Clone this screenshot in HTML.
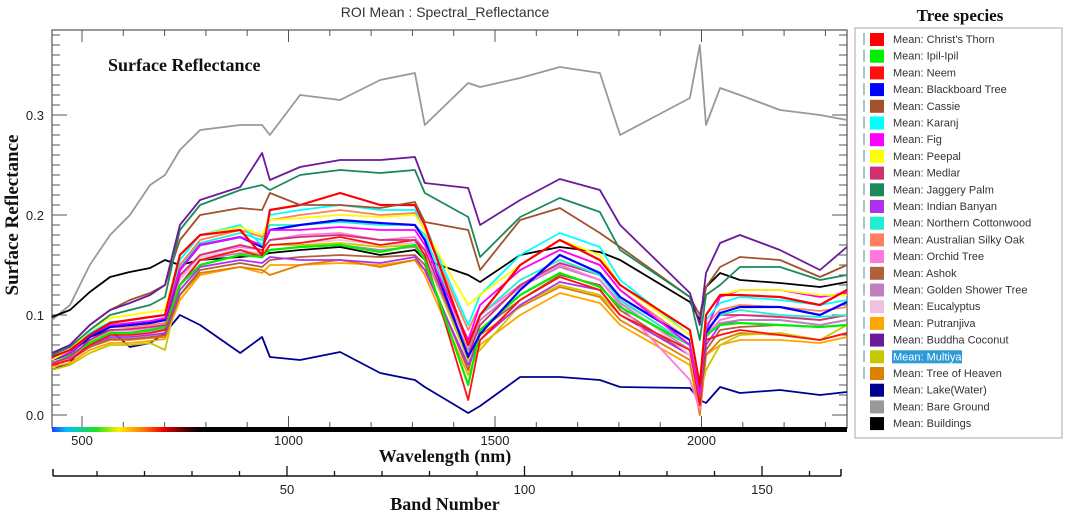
<!DOCTYPE html>
<html><head><meta charset="utf-8">
<style>
body{margin:0;background:#fff;}
svg{display:block;}
.tk{font-family:"Liberation Sans",sans-serif;font-size:13px;fill:#222;}
.sf{font-family:"Liberation Serif",serif;font-weight:bold;fill:#111;}
.lg{font-family:"Liberation Sans",sans-serif;font-size:11px;fill:#333;}
</style></head>
<body>
<svg id="chart" width="1065" height="513" viewBox="0 0 1065 513" xmlns="http://www.w3.org/2000/svg">
<defs>
<linearGradient id="spec" x1="0" x2="1" y1="0" y2="0">
<stop offset="0" stop-color="#2040ff"/><stop offset="0.1" stop-color="#00c0ff"/><stop offset="0.3" stop-color="#20e020"/><stop offset="0.45" stop-color="#ffee00"/><stop offset="0.62" stop-color="#ff7700"/><stop offset="0.75" stop-color="#ee0000"/><stop offset="0.9" stop-color="#500000"/><stop offset="1" stop-color="#000"/>
</linearGradient>
</defs>
<text x="445" y="17" text-anchor="middle" style="font-family:'Liberation Sans',sans-serif;font-size:14px;fill:#333">ROI Mean : Spectral_Reflectance</text>
<rect x="52" y="30" width="795" height="398" fill="#fff" stroke="#555" stroke-width="1.2"/>
<g id="ticks"></g>
<g id="series"></g>
<rect x="52" y="427" width="148" height="5" fill="url(#spec)"/>
<rect x="199" y="427" width="648" height="5" fill="#000"/>
<text class="sf" x="108" y="71" font-size="18">Surface Reflectance</text>
<text class="sf" x="0" y="0" font-size="19" text-anchor="middle" transform="translate(18,215) rotate(-90)">Surface Reflectance</text>
<text class="sf" x="445" y="462" font-size="18" text-anchor="middle">Wavelength (nm)</text>
<text class="sf" x="445" y="510" font-size="18" text-anchor="middle">Band Number</text>
<line x1="53" y1="476" x2="841" y2="476" stroke="#111" stroke-width="1.5"/>
<g id="band"></g>
<text class="sf" x="960" y="21" font-size="17" text-anchor="middle">Tree species</text>
<rect x="855" y="28" width="207" height="410" fill="#fff" stroke="#aaa"/>
<g id="legend"></g>
</svg>
<script>
const wavelengths=[427,471,519,568,616,665,701,737,786,883,936,955,1028,1125,1222,1306,1330,1435,1464,1561,1657,1754,1803,1972,1996,2011,2045,2093,2190,2287,2352];
const yTicks=[0.0,0.1,0.2,0.3];
const yTickLabels=["0.0","0.1","0.2","0.3"];
const xTicks=[500,1000,1500,2000];
const bandTicks=[50,100,150];
const seriesNames=["Christ's Thorn","Ipil-Ipil","Neem","Blackboard Tree","Cassie","Karanj","Fig","Peepal","Medlar","Jaggery Palm","Indian Banyan","Northern Cottonwood","Australian Silky Oak","Orchid Tree","Ashok","Golden Shower Tree","Eucalyptus","Putranjiva","Buddha Coconut","Multiya","Tree of Heaven","Lake(Water)","Bare Ground","Buildings"];
const seriesColors=["#ff0000","#00ee00","#ff1010","#0000ff","#a0522d","#00ffff","#ff00ff","#ffff00","#d03070","#1a8a5a","#b030f0","#20f0d0","#ff8060","#ff77e0","#b0603a","#c080c0","#f0c0e0","#ffa500","#6a1a9a","#c8c800","#e08000","#000090","#999999","#000000"];
const sChristsThorn=[0.058,0.065,0.08,0.092,0.095,0.098,0.1,0.16,0.18,0.185,0.16,0.205,0.21,0.222,0.21,0.21,0.19,0.07,0.1,0.15,0.175,0.155,0.13,0.085,0.03,0.1,0.12,0.12,0.118,0.11,0.125];
const sIpil=[0.055,0.06,0.072,0.082,0.082,0.085,0.088,0.13,0.15,0.16,0.158,0.165,0.168,0.17,0.163,0.17,0.155,0.03,0.085,0.12,0.142,0.128,0.108,0.07,0.02,0.08,0.09,0.092,0.09,0.088,0.09];
const sNeem=[0.05,0.055,0.07,0.08,0.08,0.082,0.085,0.13,0.155,0.165,0.158,0.17,0.172,0.178,0.17,0.175,0.16,0.015,0.075,0.115,0.138,0.125,0.1,0.065,0.01,0.075,0.08,0.085,0.08,0.075,0.082];
const sBlackboard=[0.055,0.062,0.078,0.088,0.09,0.092,0.095,0.145,0.17,0.178,0.168,0.185,0.19,0.195,0.192,0.19,0.175,0.058,0.081,0.125,0.16,0.142,0.118,0.075,0.025,0.082,0.102,0.108,0.108,0.1,0.113];
const sCassie=[0.06,0.07,0.09,0.105,0.115,0.122,0.13,0.175,0.2,0.207,0.205,0.222,0.21,0.21,0.207,0.213,0.193,0.185,0.145,0.195,0.207,0.182,0.168,0.118,0.1,0.128,0.148,0.158,0.155,0.138,0.15];
const sKaranj=[0.058,0.065,0.082,0.093,0.095,0.098,0.1,0.155,0.18,0.19,0.17,0.2,0.205,0.21,0.205,0.205,0.19,0.09,0.12,0.16,0.182,0.168,0.135,0.08,0.03,0.095,0.112,0.118,0.115,0.11,0.115];
const sFig=[0.056,0.062,0.08,0.09,0.092,0.094,0.097,0.145,0.17,0.178,0.17,0.185,0.185,0.188,0.185,0.185,0.17,0.075,0.11,0.145,0.165,0.15,0.125,0.07,0.02,0.085,0.118,0.125,0.125,0.118,0.122];
const sPeepal=[0.055,0.065,0.085,0.097,0.1,0.103,0.105,0.16,0.18,0.188,0.18,0.195,0.197,0.2,0.198,0.2,0.185,0.11,0.12,0.15,0.175,0.16,0.13,0.08,0.03,0.1,0.12,0.125,0.125,0.12,0.12];
const sMedlar=[0.052,0.058,0.075,0.085,0.086,0.088,0.09,0.14,0.16,0.17,0.165,0.175,0.178,0.18,0.175,0.175,0.165,0.06,0.09,0.13,0.152,0.14,0.115,0.07,0.02,0.085,0.1,0.1,0.098,0.095,0.1];
const sJaggery=[0.06,0.068,0.085,0.1,0.105,0.11,0.118,0.185,0.21,0.225,0.23,0.225,0.24,0.245,0.242,0.245,0.222,0.198,0.158,0.198,0.217,0.203,0.165,0.118,0.075,0.12,0.13,0.148,0.148,0.135,0.14];
const sBanyan=[0.05,0.055,0.07,0.078,0.078,0.08,0.082,0.125,0.148,0.155,0.152,0.158,0.155,0.155,0.152,0.158,0.145,0.05,0.075,0.11,0.133,0.125,0.1,0.06,0.015,0.07,0.09,0.095,0.095,0.09,0.095];
const sCottonwood=[0.056,0.063,0.08,0.09,0.09,0.092,0.095,0.148,0.172,0.182,0.175,0.19,0.19,0.193,0.19,0.19,0.18,0.07,0.1,0.135,0.155,0.14,0.115,0.07,0.02,0.085,0.1,0.105,0.1,0.098,0.1];
const sSilkyOak=[0.055,0.062,0.078,0.088,0.088,0.09,0.092,0.15,0.175,0.185,0.178,0.195,0.2,0.205,0.2,0.202,0.185,0.085,0.11,0.145,0.165,0.15,0.125,0.075,0.025,0.09,0.105,0.11,0.108,0.104,0.108];
const sOrchid=[0.052,0.058,0.075,0.085,0.085,0.087,0.09,0.138,0.16,0.168,0.165,0.175,0.18,0.182,0.175,0.178,0.165,0.07,0.1,0.13,0.15,0.135,0.11,0.035,0.005,0.08,0.095,0.1,0.098,0.095,0.1];
const sAshok=[0.05,0.055,0.068,0.076,0.076,0.078,0.08,0.12,0.145,0.152,0.148,0.155,0.158,0.16,0.158,0.16,0.15,0.045,0.085,0.115,0.14,0.13,0.105,0.06,0.01,0.065,0.085,0.088,0.09,0.088,0.09];
const sGoldenShower=[0.05,0.056,0.072,0.082,0.082,0.084,0.086,0.13,0.155,0.162,0.16,0.165,0.168,0.17,0.165,0.168,0.158,0.065,0.095,0.128,0.148,0.135,0.112,0.065,0.015,0.078,0.092,0.095,0.095,0.09,0.095];
const sEucalyptus=[0.052,0.058,0.074,0.084,0.084,0.086,0.088,0.135,0.158,0.165,0.162,0.17,0.172,0.175,0.17,0.172,0.16,0.072,0.1,0.135,0.155,0.14,0.115,0.06,0.01,0.08,0.095,0.1,0.1,0.095,0.1];
const sPutranjiva=[0.048,0.052,0.065,0.072,0.072,0.074,0.076,0.115,0.14,0.148,0.142,0.15,0.15,0.152,0.15,0.155,0.14,0.04,0.07,0.1,0.122,0.112,0.09,0.05,0.0,0.06,0.07,0.075,0.075,0.072,0.078];
const sBuddha=[0.062,0.07,0.09,0.105,0.112,0.12,0.13,0.19,0.215,0.228,0.262,0.235,0.248,0.255,0.255,0.258,0.232,0.227,0.19,0.215,0.236,0.225,0.19,0.122,0.09,0.142,0.172,0.18,0.165,0.145,0.168];
const sMultiya=[0.045,0.05,0.062,0.07,0.07,0.072,0.065,0.13,0.155,0.165,0.16,0.17,0.17,0.172,0.168,0.17,0.16,0.055,0.065,0.11,0.13,0.12,0.1,0.06,0.02,0.045,0.07,0.08,0.082,0.075,0.09];
const sTreeOfHeaven=[0.05,0.055,0.068,0.075,0.075,0.077,0.078,0.12,0.142,0.148,0.145,0.14,0.15,0.155,0.148,0.155,0.145,0.05,0.08,0.108,0.128,0.118,0.095,0.055,0.0,0.06,0.075,0.082,0.08,0.075,0.082];
const sLake=[0.045,0.052,0.078,0.085,0.068,0.072,0.082,0.1,0.09,0.062,0.078,0.058,0.055,0.063,0.042,0.035,0.028,0.002,0.009,0.038,0.038,0.035,0.028,0.027,0.015,0.012,0.028,0.022,0.025,0.02,0.023];
const sBareGround=[0.095,0.11,0.15,0.18,0.2,0.23,0.24,0.265,0.285,0.29,0.29,0.28,0.32,0.315,0.335,0.342,0.29,0.332,0.328,0.337,0.348,0.342,0.28,0.317,0.37,0.29,0.327,0.32,0.305,0.3,0.295];
const sBuildings=[0.098,0.105,0.123,0.138,0.143,0.147,0.155,0.15,0.155,0.158,0.16,0.162,0.165,0.168,0.16,0.165,0.155,0.14,0.133,0.16,0.168,0.163,0.155,0.113,0.095,0.128,0.142,0.135,0.132,0.128,0.133];
const seriesValues=[sChristsThorn,sIpil,sNeem,sBlackboard,sCassie,sKaranj,sFig,sPeepal,sMedlar,sJaggery,sBanyan,sCottonwood,sSilkyOak,sOrchid,sAshok,sGoldenShower,sEucalyptus,sPutranjiva,sBuddha,sMultiya,sTreeOfHeaven,sLake,sBareGround,sBuildings];

const NS="http://www.w3.org/2000/svg";
const X0=52,X1=847,Y0=30,Y1=428;
function xScale(w){return 82+(w-500)*0.413;}
function yScale(v){return 415-v*1000;}
function bandScale(b){return 287+(b-50)*4.75;}
function mk(tag,attrs,parent){const e=document.createElementNS(NS,tag);for(const k in attrs)e.setAttribute(k,attrs[k]);parent.appendChild(e);return e;}

const tg=document.getElementById('ticks');
for(let i=0;i<=38;i++){
  const v=i/100;const y=yScale(v);if(y<Y0||y>Y1)continue;
  const major=i%10===0;const len=major?15:8;
  const l1=mk('line',{x1:X0,y1:y,x2:X0+len,y2:y,stroke:'#555','stroke-width':1},tg);
  
  
  const l2=mk('line',{x1:X1-len,y1:y,x2:X1,y2:y,stroke:'#555','stroke-width':1},tg);
  
  
}
yTicks.forEach((v,i)=>{
  const t=mk('text',{x:44,y:yScale(v)+5,'text-anchor':'end',class:'tk'},tg);
  
  
  t.textContent=yTickLabels[i];
});
for(let w=500;w<=2300;w+=100){
  const x=xScale(w);const major=w%500===0;const len=major?12:6;
  const a=mk('line',{x1:x,y1:Y0,x2:x,y2:Y0+len,stroke:'#555','stroke-width':1},tg);
  
  
  const b=mk('line',{x1:x,y1:Y1-len,x2:x,y2:Y1,stroke:'#555','stroke-width':1},tg);
  
  
}
xTicks.forEach(w=>{
  const t=mk('text',{x:xScale(w),y:445,'text-anchor':'middle',class:'tk'},tg);
  
  
  t.textContent=w;
});
const bg=document.getElementById('band');
for(let b=0;b<=160;b+=10){
  const x=bandScale(b);if(x<52||x>842)continue;
  const major=b%50===0;
  const l=mk('line',{x1:x,y1:476-(major?10:5),x2:x,y2:476,stroke:'#111','stroke-width':1.3},bg);
  
  
}
[53,841].forEach(x=>{
  const l=mk('line',{x1:x,y1:469,x2:x,y2:476,stroke:'#111','stroke-width':1.5},bg);
  
  
});
bandTicks.forEach(b=>{
  const t=mk('text',{x:bandScale(b),y:494,'text-anchor':'middle',class:'tk','font-size':'15'},bg);
  
  
  t.textContent=b;
});
const sg=document.getElementById('series');
const drawOrder=[22,21,23,17,20,19,14,10,15,16,13,2,1,8,11,12,3,6,5,7,0,4,9,18];
drawOrder.forEach(i=>{
  const vals=seriesValues[i];
  const d=vals.map((v,j)=>(j?'L':'M')+xScale(wavelengths[j]).toFixed(1)+','+yScale(v).toFixed(1)).join(' ');
  const p=mk('path',{d:d,fill:'none',stroke:seriesColors[i],'stroke-width':(i===3||i===1||i===0)?2.2:1.8,'stroke-linejoin':'round'},sg);
  
  
});
const lg=document.getElementById('legend');
seriesNames.forEach((n,i)=>{
  const y=39+i*16.7;
  if(i<21){
    const m=mk('line',{x1:864,y1:y-6,x2:864,y2:y+6,stroke:'#4a8ab0','stroke-width':1},lg);
    
    
  }
  const r=mk('rect',{x:870,y:y-6,width:14,height:13,fill:seriesColors[i]},lg);
  
  
  if(n==='Multiya'){
    const h=mk('rect',{x:892,y:y-6,width:70,height:13,fill:'#2a9ad8'},lg);
    
    
  }
  const t=mk('text',{x:893,y:y+4,class:'lg'},lg);
  if(n==='Multiya')t.setAttribute('style','fill:#fff');
  
  
  t.textContent='Mean: '+n;
});
</script>
</body></html>
